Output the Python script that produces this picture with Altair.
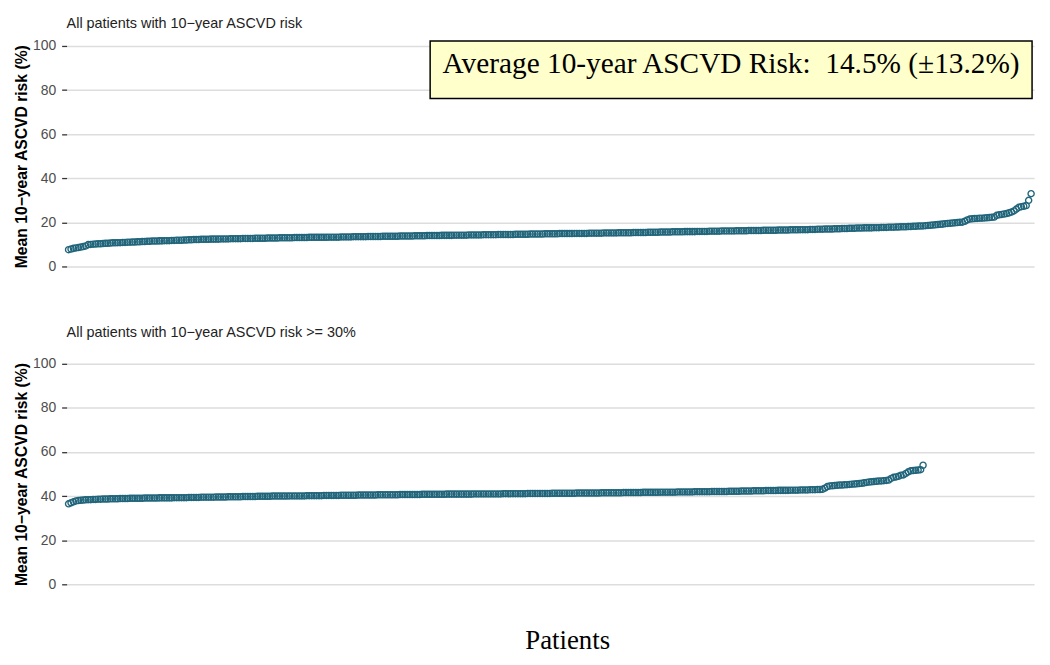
import altair as alt
import pandas as pd

# ---- data (sorted mean 10-year ASCVD risk per patient) ----
top_risk = [
    7.6, 7.9, 8.2, 8.4, 8.6, 8.8, 9.0, 9.3, 9.9, 10.0,
    10.1, 10.2, 10.3, 10.3, 10.4, 10.5, 10.5, 10.6, 10.7, 10.7,
    10.8, 10.8, 10.9, 10.9, 11.0, 11.0, 11.1, 11.1, 11.2, 11.2,
    11.3, 11.3, 11.4, 11.4, 11.5, 11.5, 11.5, 11.6, 11.6, 11.7,
    11.7, 11.7, 11.8, 11.8, 11.9, 11.9, 11.9, 12.0, 12.0, 12.1,
    12.1, 12.2, 12.2, 12.2, 12.3, 12.3, 12.3, 12.3, 12.4, 12.4,
    12.4, 12.4, 12.5, 12.5, 12.5, 12.5, 12.6, 12.6, 12.6, 12.6,
    12.6, 12.7, 12.7, 12.7, 12.7, 12.7, 12.8, 12.8, 12.8, 12.8,
    12.8, 12.9, 12.9, 12.9, 12.9, 12.9, 13.0, 13.0, 13.0, 13.0,
    13.0, 13.0, 13.1, 13.1, 13.1, 13.1, 13.1, 13.1, 13.2, 13.2,
    13.2, 13.2, 13.2, 13.2, 13.2, 13.2, 13.3, 13.3, 13.3, 13.3,
    13.3, 13.4, 13.4, 13.4, 13.4, 13.4, 13.5, 13.5, 13.5, 13.5,
    13.5, 13.5, 13.6, 13.6, 13.6, 13.6, 13.6, 13.6, 13.7, 13.7,
    13.7, 13.7, 13.7, 13.7, 13.7, 13.8, 13.8, 13.8, 13.8, 13.8,
    13.8, 13.9, 13.9, 13.9, 13.9, 13.9, 14.0, 14.0, 14.0, 14.0,
    14.0, 14.0, 14.1, 14.1, 14.1, 14.1, 14.1, 14.2, 14.2, 14.2,
    14.2, 14.2, 14.2, 14.3, 14.3, 14.3, 14.3, 14.3, 14.3, 14.4,
    14.4, 14.4, 14.4, 14.4, 14.4, 14.5, 14.5, 14.5, 14.5, 14.5,
    14.5, 14.5, 14.6, 14.6, 14.6, 14.6, 14.6, 14.6, 14.7, 14.7,
    14.7, 14.7, 14.7, 14.7, 14.8, 14.8, 14.8, 14.8, 14.8, 14.8,
    14.9, 14.9, 14.9, 14.9, 14.9, 14.9, 15.0, 15.0, 15.0, 15.0,
    15.0, 15.0, 15.1, 15.1, 15.1, 15.1, 15.1, 15.1, 15.2, 15.2,
    15.2, 15.2, 15.2, 15.2, 15.3, 15.3, 15.3, 15.3, 15.3, 15.3,
    15.4, 15.4, 15.4, 15.4, 15.4, 15.4, 15.5, 15.5, 15.5, 15.5,
    15.5, 15.6, 15.6, 15.6, 15.6, 15.6, 15.7, 15.7, 15.7, 15.7,
    15.7, 15.8, 15.8, 15.8, 15.8, 15.8, 15.9, 15.9, 15.9, 15.9,
    15.9, 16.0, 16.0, 16.0, 16.0, 16.0, 16.1, 16.1, 16.1, 16.1,
    16.1, 16.1, 16.2, 16.2, 16.2, 16.2, 16.2, 16.3, 16.3, 16.3,
    16.3, 16.3, 16.3, 16.4, 16.4, 16.4, 16.4, 16.4, 16.4, 16.5,
    16.5, 16.5, 16.5, 16.5, 16.6, 16.6, 16.6, 16.6, 16.7, 16.7,
    16.7, 16.7, 16.8, 16.8, 16.8, 16.9, 16.9, 16.9, 17.0, 17.0,
    17.0, 17.0, 17.1, 17.1, 17.1, 17.2, 17.2, 17.2, 17.3, 17.3,
    17.3, 17.4, 17.4, 17.4, 17.5, 17.5, 17.5, 17.5, 17.6, 17.6,
    17.6, 17.7, 17.7, 17.7, 17.8, 17.8, 17.8, 17.9, 17.9, 18.0,
    18.0, 18.0, 18.1, 18.1, 18.2, 18.2, 18.3, 18.3, 18.4, 18.5,
    18.6, 18.7, 18.8, 18.9, 19.0, 19.1, 19.2, 19.4, 19.5, 19.6,
    19.7, 19.8, 19.9, 20.0, 20.1, 20.5, 21.1, 21.5, 21.6, 21.7,
    21.8, 21.9, 21.9, 22.0, 22.1, 22.2, 22.3, 22.4, 23.2, 23.4,
    23.6, 23.8, 24.0, 24.3, 24.7, 25.2, 26.0, 26.8, 27.1, 27.3,
    27.6, 30.0, 33.0,
]

bottom_risk = [
    36.5, 37.0, 37.4, 37.8, 38.0, 38.1, 38.2, 38.3, 38.4, 38.4,
    38.5, 38.5, 38.6, 38.6, 38.7, 38.7, 38.7, 38.8, 38.8, 38.8,
    38.8, 38.9, 38.9, 38.9, 38.9, 39.0, 39.0, 39.0, 39.0, 39.0,
    39.0, 39.1, 39.1, 39.1, 39.1, 39.1, 39.1, 39.2, 39.2, 39.2,
    39.2, 39.2, 39.2, 39.3, 39.3, 39.3, 39.3, 39.3, 39.3, 39.4,
    39.4, 39.4, 39.4, 39.4, 39.5, 39.5, 39.5, 39.5, 39.5, 39.5,
    39.6, 39.6, 39.6, 39.6, 39.6, 39.7, 39.7, 39.7, 39.7, 39.7,
    39.7, 39.8, 39.8, 39.8, 39.8, 39.8, 39.8, 39.9, 39.9, 39.9,
    39.9, 39.9, 39.9, 40.0, 40.0, 40.0, 40.0, 40.0, 40.0, 40.0,
    40.1, 40.1, 40.1, 40.1, 40.1, 40.1, 40.1, 40.2, 40.2, 40.2,
    40.2, 40.2, 40.2, 40.2, 40.3, 40.3, 40.3, 40.3, 40.3, 40.3,
    40.3, 40.4, 40.4, 40.4, 40.4, 40.4, 40.4, 40.4, 40.5, 40.5,
    40.5, 40.5, 40.5, 40.5, 40.5, 40.5, 40.6, 40.6, 40.6, 40.6,
    40.6, 40.6, 40.6, 40.6, 40.6, 40.7, 40.7, 40.7, 40.7, 40.7,
    40.7, 40.7, 40.7, 40.7, 40.8, 40.8, 40.8, 40.8, 40.8, 40.8,
    40.8, 40.8, 40.8, 40.8, 40.9, 40.9, 40.9, 40.9, 40.9, 40.9,
    40.9, 40.9, 40.9, 40.9, 40.9, 41.0, 41.0, 41.0, 41.0, 41.0,
    41.0, 41.0, 41.0, 41.0, 41.0, 41.0, 41.0, 41.1, 41.1, 41.1,
    41.1, 41.1, 41.1, 41.1, 41.1, 41.1, 41.1, 41.2, 41.2, 41.2,
    41.2, 41.2, 41.2, 41.2, 41.2, 41.2, 41.2, 41.3, 41.3, 41.3,
    41.3, 41.3, 41.3, 41.3, 41.3, 41.3, 41.3, 41.4, 41.4, 41.4,
    41.4, 41.4, 41.4, 41.4, 41.4, 41.4, 41.4, 41.5, 41.5, 41.5,
    41.5, 41.5, 41.5, 41.5, 41.5, 41.5, 41.6, 41.6, 41.6, 41.6,
    41.6, 41.6, 41.6, 41.6, 41.7, 41.7, 41.7, 41.7, 41.7, 41.7,
    41.7, 41.8, 41.8, 41.8, 41.8, 41.8, 41.8, 41.8, 41.9, 41.9,
    41.9, 41.9, 41.9, 41.9, 41.9, 42.0, 42.0, 42.0, 42.0, 42.0,
    42.0, 42.0, 42.1, 42.1, 42.1, 42.1, 42.1, 42.1, 42.1, 42.2,
    42.2, 42.2, 42.2, 42.2, 42.3, 42.3, 42.3, 42.3, 42.3, 42.4,
    42.4, 42.4, 42.4, 42.4, 42.5, 42.5, 42.5, 42.5, 42.5, 42.6,
    42.6, 42.6, 42.6, 42.6, 42.7, 42.7, 42.7, 42.7, 42.8, 42.8,
    42.8, 42.8, 42.9, 42.9, 42.9, 43.0, 43.0, 43.1, 43.6, 44.3,
    44.6, 44.7, 44.8, 44.9, 45.0, 45.0, 45.1, 45.2, 45.3, 45.4,
    45.5, 45.6, 45.7, 45.8, 46.0, 46.2, 46.4, 46.5, 46.6, 46.7,
    46.8, 46.9, 47.0, 47.1, 47.3, 48.0, 48.5, 48.7, 49.0, 49.5,
    49.6, 50.3, 51.0, 51.5, 51.6, 51.7, 51.8, 52.0, 54.0,
]

y_ticks = [0, 20, 40, 60, 80, 100]
top_title = "All patients with 10\u2212year ASCVD risk"
bottom_title = "All patients with 10\u2212year ASCVD risk >= 30%"
y_title = "Mean 10\u2212year ASCVD risk (%)"
x_title = "Patients"
note_text = ["Average 10-year ASCVD Risk:\u00a0 14.5% (\u00b113.2%)"]

# ---- styling ----
W = 974
H = 222
POINT_COLOR = "#21657B"
SANS = "Liberation Sans"
SERIF = "Liberation Serif"

top_df = pd.DataFrame({"patient": list(range(1, len(top_risk) + 1)), "risk": top_risk})
bottom_df = pd.DataFrame({"patient": list(range(1, len(bottom_risk) + 1)), "risk": bottom_risk})
note_df = pd.DataFrame({"note": note_text})

x_scale = alt.Scale(domain=[0.2, 394.2], nice=False, zero=False)
y_scale = alt.Scale(domain=[0, 100], nice=False)

y_axis = alt.Axis(
    values=y_ticks, grid=True, gridColor="#DDDDDD", gridWidth=1.5,
    domain=False, ticks=True, tickColor="#333333", tickSize=5, tickWidth=1.3,
    labelFont=SANS, labelFontSize=14, labelColor="#4D4D4D", labelPadding=6,
    title=y_title, titleFont=SANS, titleFontSize=15.8, titleFontWeight="bold",
    titleColor="black", titlePadding=3,
)


def panel(df, title_text, title_offset, with_x_title):
    if with_x_title:
        x_axis = alt.Axis(labels=False, ticks=False, domain=False, grid=False,
                          title=x_title, titleFont=SERIF, titleFontSize=27,
                          titleFontWeight="normal", titleColor="black",
                          titlePadding=44, titleX=504, titleAlign="center")
    else:
        x_axis = alt.Axis(labels=False, ticks=False, domain=False, grid=False, title=None)
    return alt.Chart(df).mark_point(
        shape="circle", filled=False, size=38, strokeWidth=1.4,
        color=POINT_COLOR, opacity=1, clip=False,
    ).encode(
        x=alt.X("patient:Q", scale=x_scale, axis=x_axis),
        y=alt.Y("risk:Q", scale=y_scale, axis=y_axis),
    ).properties(
        width=W, height=H,
        title=alt.TitleParams(text=title_text, anchor="start", frame="group",
                              font=SANS, fontSize=14.5, fontWeight="normal",
                              color="#222222", offset=title_offset),
    )


box = alt.Chart(note_df).mark_rect(
    fill="#FFFFCC", stroke="black", strokeWidth=1.5,
).encode(
    x=alt.value(366), x2=alt.value(972), y=alt.value(-5), y2=alt.value(53),
)
label = alt.Chart(note_df).mark_text(
    font=SERIF, fontSize=29.5, color="black", align="center", baseline="alphabetic",
).encode(
    x=alt.value(669), y=alt.value(27), text="note:N",
)

top = alt.layer(panel(top_df, top_title, 8, False), box, label)
bottom = panel(bottom_df, bottom_title, 16, True)

chart = alt.vconcat(top, bottom, spacing=52).configure_view(strokeWidth=0)

chart.save("out.html", embed_options={"renderer": "svg", "actions": False})
